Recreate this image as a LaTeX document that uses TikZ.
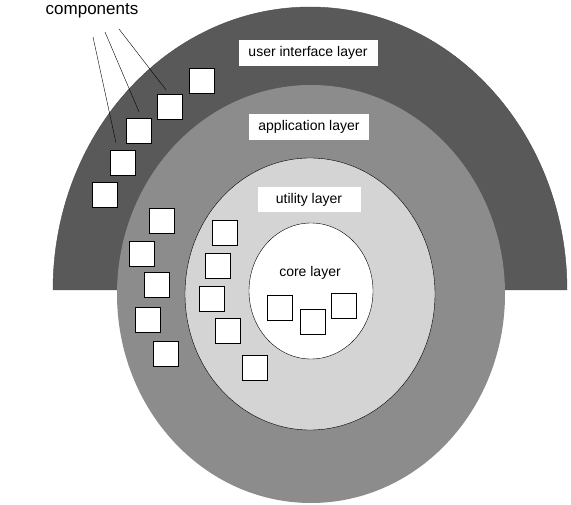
\documentclass[tikz,border=0pt]{standalone}
\usepackage{fontspec}
\setmainfont{Liberation Sans}
\usepackage{tikz}
\definecolor{uigray}{gray}{0.35}
\definecolor{appgray}{gray}{0.55}
\definecolor{utilgray}{gray}{0.83}
\tikzset{
  comp/.style={draw=black,line width=1.3pt,fill=white,minimum size=25pt,inner sep=0pt},
  layerlabel/.style={fill=white,font=\fontsize{14}{16}\selectfont,inner sep=0pt,minimum height=26pt}
}
\begin{document}
\begin{tikzpicture}[x=1pt,y=1pt]
       \useasboundingbox (0,0) rectangle (571,504);
       % layers
       \draw[fill=uigray,draw=black!70,thin] (53,214) arc[start angle=180,end angle=0,x radius=257,y radius=283] -- cycle;
       \fill[appgray] (311,210) ellipse[x radius=194,y radius=209];
       \draw[fill=utilgray,thin] (310,210) ellipse[x radius=125,y radius=136];
       \draw[fill=white,thin] (311,213) ellipse[x radius=62,y radius=68];
       % labels
       \node[layerlabel,minimum width=139pt] (ui) at (308,451) {user interface layer};
       \node[layerlabel,minimum width=120pt] (app) at (309,377) {application layer};
       \node[layerlabel,minimum width=103pt,minimum height=25pt] (util) at (309,304) {utility layer};
       \node[font=\fontsize{14}{16}\selectfont] (core) at (310,231) {core layer};
       % components
       \foreach \x/\y [count=\i] in {202/423,170/397,139/373,123/341,105/309,
                                    162/283,142/250,157/219,148/184,166/150,
                                    225/271,218/238,212/205,228/173,255/136,
                                    280/196,313/182,344/198}
       {
         \node[comp] (sq\i) at (\x,\y) {};
       }
       \node[font=\fontsize{17}{20}\selectfont,anchor=base,inner sep=0pt] (comps) at (92,489) {components};
       \coordinate (c1) at (93,467);
       \coordinate (c2) at (105,472);
       \coordinate (c3) at (119,475);
       \draw[thin] (c1) -- ([xshift=-7pt,yshift=7pt]sq4.north);
       \draw[thin] (c2) -- ([yshift=6pt]sq3.north);
       \draw[thin] (c3) -- ([xshift=-4pt,yshift=4pt]sq2.north);
     \end{tikzpicture}
\end{document}
